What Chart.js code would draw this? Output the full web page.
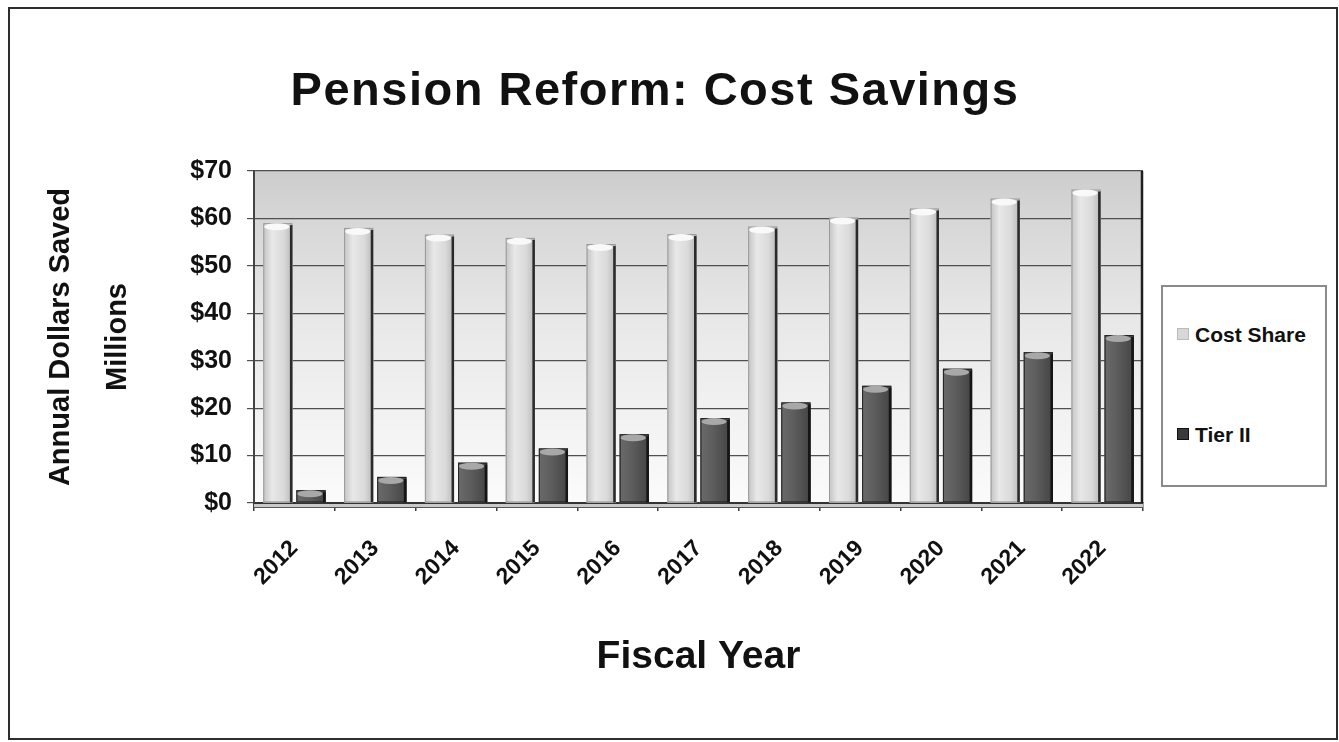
<!DOCTYPE html>
<html>
<head>
<meta charset="utf-8">
<title>Pension Reform: Cost Savings</title>
<script src="https://cdn.jsdelivr.net/npm/chart.js@4.4.1/dist/chart.umd.min.js"></script>
<style>
    html, body {
        margin: 0;
        padding: 0;
        background: #ffffff;
        font-family: "Liberation Sans", Arial, sans-serif;
    }
    #wrap {
        position: relative;
        width: 1339px;
        height: 742px;
        overflow: hidden;
    }
    #chart {
        position: absolute;
        left: 0;
        top: 0;
    }
    #frame {
        position: absolute;
        left: 8px;
        top: 7px;
        width: 1326px;
        height: 729px;
        border: 2px solid #2e2e2e;
        pointer-events: none;
    }
    #title {
        position: absolute;
        left: 155px;
        width: 1000px;
        top: 65px;
        text-align: center;
        font-weight: bold;
        font-size: 47px;
        line-height: 48px;
        letter-spacing: 1.5px;
        color: #111;
    }
    #legend {
        position: absolute;
        left: 1161px;
        top: 285px;
        width: 162px;
        height: 198px;
        border: 2px solid #8a8a8a;
        background: #fff;
    }
    .legend-item {
        position: absolute;
        left: 14px;
        font-weight: bold;
        font-size: 21px;
        line-height: 24px;
        color: #111;
        white-space: nowrap;
    }
    .legend-swatch {
        display: inline-block;
        width: 10px;
        height: 10px;
        margin-right: 6px;
        vertical-align: 2px;
    }
</style>
</head>
<body>
<div id="wrap">
    <canvas id="chart" width="1339" height="742"></canvas>
    <div id="title">Pension Reform: Cost Savings</div>
    <div id="legend"></div>
    <div id="frame"></div>
</div>

<script>
// Fiscal years and annual savings, $ millions
const fiscalYears = ['2012', '2013', '2014', '2015', '2016', '2017', '2018', '2019', '2020', '2021', '2022'];
const costShare = [59.0, 58.0, 56.6, 55.9, 54.6, 56.7, 58.3, 60.2, 62.1, 64.2, 66.1];
const tierII = [2.7, 5.5, 8.5, 11.5, 14.5, 17.9, 21.2, 24.7, 28.3, 31.8, 35.4];

// Y axis ticks
const yMin = 0;
const yMax = 70;
const yStep = 10;

const seriesStyles = [
    { label: 'Cost Share', base: '#dedede', edge: '#2a2a2a', cap: '#f9f9f9', swatch: '#d8d8d8' },
    { label: 'Tier II', base: '#5a5a5a', edge: '#151515', cap: '#a8a8a8', swatch: '#3a3a3a' }
];

const FONT = '"Liberation Sans", Arial, sans-serif';

// Back wall of the plot, darker toward the top
const wallPlugin = {
    id: 'wall',
    beforeDraw(chart) {
        const { ctx, chartArea } = chart;
        const g = ctx.createLinearGradient(0, chartArea.top, 0, chartArea.bottom);
        g.addColorStop(0, '#cdcdcd');
        g.addColorStop(0.14, '#d6d6d6');
        g.addColorStop(0.45, '#e8e8e8');
        g.addColorStop(1, '#fbfbfb');
        ctx.save();
        ctx.fillStyle = g;
        ctx.fillRect(chartArea.left, chartArea.top, chartArea.right - chartArea.left, chartArea.bottom - chartArea.top);
        ctx.restore();
    }
};

// Shading on each column so they read as 3D blocks
const shadePlugin = {
    id: 'shade',
    afterDatasetsDraw(chart) {
        const ctx = chart.ctx;
        chart.data.datasets.forEach((ds, di) => {
            const meta = chart.getDatasetMeta(di);
            const st = seriesStyles[di];
            meta.data.forEach(bar => {
                const left = bar.x - bar.width / 2;
                const right = bar.x + bar.width / 2;
                const top = bar.y;
                const bottom = bar.base;
                const w = right - left;

                const g = ctx.createLinearGradient(left, 0, right, 0);
                if (di === 0) {
                    g.addColorStop(0, '#c4c4c4');
                    g.addColorStop(0.3, '#e8e8e8');
                    g.addColorStop(0.7, '#dadada');
                    g.addColorStop(1, '#b8b8b8');
                } else {
                    g.addColorStop(0, '#6a6a6a');
                    g.addColorStop(0.4, '#5e5e5e');
                    g.addColorStop(1, '#444444');
                }
                ctx.save();
                ctx.fillStyle = g;
                ctx.fillRect(left, top, w, bottom - top);

                // outline and dark right edge
                ctx.strokeStyle = di === 0 ? '#9a9a9a' : '#222';
                ctx.lineWidth = 1;
                ctx.strokeRect(left + 0.5, top + 0.5, w - 1, bottom - top - 1);
                ctx.fillStyle = st.edge;
                ctx.fillRect(right - 2.5, top + 2, 2.5, bottom - top - 2);

                // lighter top cap
                ctx.beginPath();
                ctx.ellipse(bar.x - 1, top + 3.5, w / 2 - 2, 3.5, 0, 0, Math.PI * 2);
                ctx.fillStyle = st.cap;
                ctx.fill();
                ctx.restore();
            });
        });
    },
    afterDraw(chart) {
        const { ctx, chartArea } = chart;
        ctx.save();
        // right edge of the back wall
        ctx.strokeStyle = '#1f1f1f';
        ctx.lineWidth = 2.5;
        ctx.beginPath();
        ctx.moveTo(chartArea.right - 1, chartArea.top);
        ctx.lineTo(chartArea.right - 1, chartArea.bottom);
        ctx.stroke();
        // floor strip under the columns
        ctx.fillStyle = '#c9c9c9';
        ctx.fillRect(chartArea.left, chartArea.bottom + 1, chartArea.right - chartArea.left, 3);
        ctx.strokeStyle = '#555';
        ctx.lineWidth = 1;
        ctx.beginPath();
        ctx.moveTo(chartArea.left, chartArea.bottom + 4.5);
        ctx.lineTo(chartArea.right, chartArea.bottom + 4.5);
        ctx.stroke();
        ctx.restore();
    }
};

function buildLegend(chart) {
    const box = document.getElementById('legend');
    const rows = [36, 136];
    chart.data.datasets.forEach((ds, i) => {
        const item = document.createElement('div');
        item.className = 'legend-item';
        item.style.top = rows[i] + 'px';
        const sw = document.createElement('span');
        sw.className = 'legend-swatch';
        sw.style.background = seriesStyles[i].swatch;
        sw.style.border = '1px solid ' + (i === 0 ? '#bbb' : '#111');
        item.appendChild(sw);
        item.appendChild(document.createTextNode(ds.label));
        box.appendChild(item);
    });
}

const chartData = {
    labels: fiscalYears,
    datasets: [
        {
            label: seriesStyles[0].label,
            data: costShare,
            backgroundColor: seriesStyles[0].base,
            borderWidth: 0,
            categoryPercentage: 0.82,
            barPercentage: 0.88
        },
        {
            label: seriesStyles[1].label,
            data: tierII,
            backgroundColor: seriesStyles[1].base,
            borderWidth: 0,
            categoryPercentage: 0.82,
            barPercentage: 0.88
        }
    ]
};

const config = {
    type: 'bar',
    data: chartData,
    options: {
        responsive: false,
        devicePixelRatio: 1,
        animation: false,
        layout: {
            padding: { top: 171, right: 196, bottom: 0, left: 0 }
        },
        plugins: {
            legend: { display: false },
            title: { display: false },
            tooltip: { enabled: false }
        },
        scales: {
            x: {
                grid: {
                    display: true,
                    drawOnChartArea: false,
                    drawTicks: true,
                    tickLength: 8,
                    color: '#3c3c3c',
                    lineWidth: 1.5
                },
                border: { display: true, color: '#333', width: 2 },
                ticks: {
                    minRotation: 45,
                    maxRotation: 45,
                    padding: 24,
                    color: '#111',
                    font: { family: FONT, size: 23, weight: 'bold' }
                },
                title: {
                    display: true,
                    text: 'Fiscal Year',
                    color: '#111',
                    padding: { top: 0, bottom: 61 },
                    font: { family: FONT, size: 39, weight: 'bold' }
                },
                afterFit(scale) {
                    scale.height = 239;
                }
            },
            y: {
                min: yMin,
                max: yMax,
                grid: {
                    color: '#505050',
                    lineWidth: 1.2,
                    tickLength: 7,
                    drawTicks: true
                },
                border: { display: true, color: '#444', width: 2 },
                ticks: {
                    stepSize: yStep,
                    padding: 15,
                    color: '#111',
                    font: { family: FONT, size: 25, weight: 'bold' },
                    callback: value => '$' + value
                },
                title: {
                    display: true,
                    text: ['Annual Dollars Saved', 'Millions'],
                    color: '#111',
                    padding: { top: 33, bottom: 0 },
                    font: { family: FONT, size: 29, weight: 'bold', lineHeight: 1.95 }
                },
                afterFit(scale) {
                    scale.width = 254;
                }
            }
        }
    },
    plugins: [wallPlugin, shadePlugin]
};

const ctx = document.getElementById('chart').getContext('2d');
const pensionChart = new Chart(ctx, config);
buildLegend(pensionChart);
</script>
</body>
</html>
